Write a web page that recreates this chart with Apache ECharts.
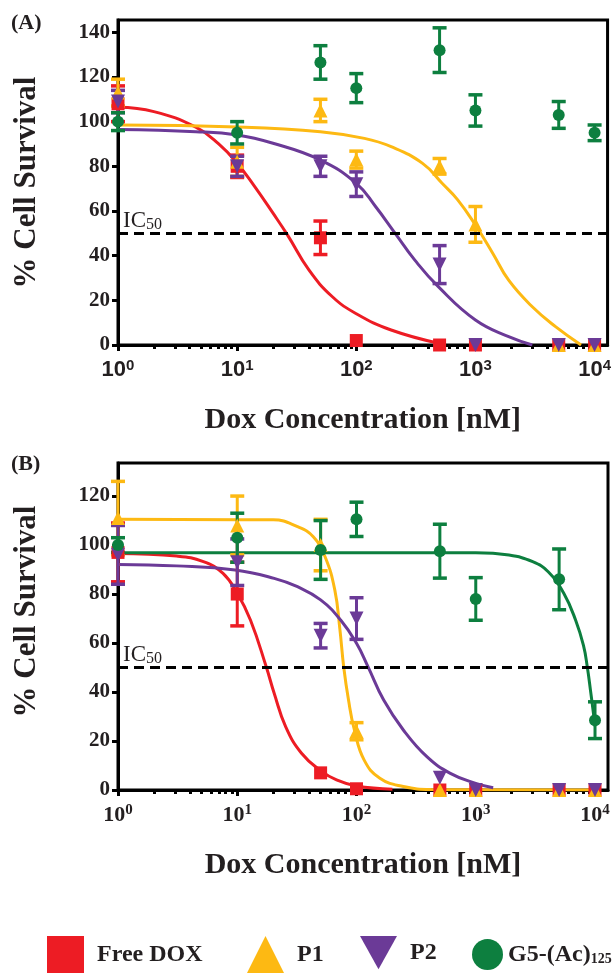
<!DOCTYPE html>
<html>
<head>
<meta charset="utf-8">
<script src="https://cdn.jsdelivr.net/npm/echarts@6/dist/echarts.min.js"></script>
<style>
html, body { margin: 0; padding: 0; background: #fff; }
#main { width: 614px; height: 973px; }
</style>
</head>
<body>
<div id="main"></div>
<script>
// concentrations (nM)
var conc = [1, 10, 50, 100, 500, 1000, 5000, 10000];

// panel A: mean % survival and error
var doxA = [108, 80, 48, 2, 0, 0, 0, 0];
var doxAErr = [8, 5, 7.5, 0, 0, 0, 0, 0];
var p1A = [113, 82, 105, 83, 80, 54, 0, 0];
var p1AErr = [6, 6.5, 5, 3.8, 3.5, 8, 0, 0];
var p2A = [109, 80, 80, 72, 36, 0, 0, 0];
var p2AErr = [5, 4.5, 4.5, 5.5, 8.5, 0, 0, 0];
var g5A = [100, 95, 126.5, 115, 132, 105, 103, 95];
var g5AErr = [4, 5, 7.5, 6.5, 10, 7, 6, 3.5];

// panel B
var doxB = [97, 80, 7, 0.5, 0, 0, 0, 0];
var doxBErr = [12, 13, 0, 0, 0, 0, 0, 0];
var p1B = [111, 108, 100, 24, 0, 0, 0, 0];
var p1BErr = [15, 12, 10.5, 3.5, 0, 0, 0, 0];
var p2B = [96, 93, 63, 70, 5, 0, 0, 0];
var p2BErr = [12, 9.5, 5, 8.5, 0, 0, 0, 0];
var g5B = [100, 103, 98, 110.5, 97.5, 78, 86, 28.5];
var g5BErr = [3, 10, 12, 7, 11, 8.7, 12.4, 7.5];

// fitted curves as [conc, value]
var doxFitA = [[1, 106.4], [2, 104.5], [4.5, 97.5], [7, 90], [10, 81.4], [14, 71], [20, 59], [26.5, 49.2], [40, 33.6], [63, 21.6], [100, 14], [196, 6.7], [490, 0.8]];
var p1FitA = [[1, 98.5], [10, 97.6], [50, 95.5], [117, 92.5], [196, 88.8], [360, 81.3], [525, 72.4], [710, 65], [1000, 53.7], [1400, 41], [1900, 29], [3000, 17.1], [4700, 8.2], [7700, 0]];
var p2FitA = [[1, 96.5], [4.5, 95.5], [10, 94], [20, 90.3], [50, 82.8], [100, 72.4], [145, 62], [212, 50], [310, 38], [490, 26], [1000, 11.2], [1900, 3.7], [3000, 0]];

var doxFitB = [[1, 96.6], [3.1, 95.5], [5.2, 93.2], [7.6, 88.4], [10, 80.3], [12.9, 69.4], [17.5, 50.3], [20.4, 39.5], [25.5, 25.8], [34.6, 15], [50, 7.9], [68, 4.1], [100, 1.6], [200, 0.3]];
var p1FitB = [[1, 110.5], [20, 110.3], [32, 107.5], [43.4, 103.4], [54.5, 95.2], [65.8, 81.6], [72.4, 66], [78.2, 50], [85.7, 36.7], [96, 24.5], [116, 12.2], [157, 4.8], [247, 1.4], [420, 0.2], [10000, 0]];
var p2FitB = [[1, 92.1], [3.1, 91.5], [9.6, 89.8], [20.4, 86.4], [32, 83], [50, 77.6], [73.6, 69.4], [100, 59.9], [125, 50.3], [169, 36.7], [247, 24.5], [389, 13.6], [612, 6.8], [1000, 2.7], [1400, 0.9]];
var g5FitB = [[1, 96.9], [100, 96.9], [1000, 96.9], [1900, 95.9], [3000, 93.2], [4050, 89.1], [5470, 80.3], [6870, 69.4], [8000, 59], [8630, 50], [9200, 40], [9660, 32], [10000, 26]];

var ic50 = 50;
var xMajor = [1, 10, 100, 1000, 10000];
var xExp = ['0', '1', '2', '3', '4'];
var xMinor = [];
for (var d = 1; d < 10000; d *= 10) {
	for (var k = 2; k <= 9; k++) xMinor.push(k * d);
}
var yTicksA = [0, 20, 40, 60, 80, 100, 120, 140];
var yTicksB = [0, 20, 40, 60, 80, 100, 120];
var xMax = 12850, yMaxA = 145.5, yMaxB = 133.5;

var names = ['Free DOX', 'P1', 'P2', 'G5-(Ac)125'];
var colors = ['#ed1c24', '#fdb913', '#6b3a97', '#0d7f3f'];
var symbols = ['rect', 'triangle', 'triangle', 'circle'];
var rotates = [0, 0, 180, 0];
var sizes = [13, 14, 14, 12];

var serif = 'Liberation Serif';
var ink = '#231f20';

function pairs(ys) {
	return conc.map(function (c, i) { return [c, ys[i]]; });
}
function errs(ys, es) {
	var out = [];
	conc.forEach(function (c, i) {
		if (es[i] > 0) out.push([c, ys[i] - es[i], ys[i] + es[i]]);
	});
	return out;
}

function renderErr(params, api) {
	var x = api.value(0);
	var lo = api.coord([x, api.value(1)]);
	var hi = api.coord([x, api.value(2)]);
	var hw = 7;
	var col = api.visual('color');
	return {
		type: 'group',
		children: [
			{ type: 'line', shape: { x1: lo[0], y1: lo[1], x2: hi[0], y2: hi[1] }, style: { stroke: col, lineWidth: 3 } },
			{ type: 'line', shape: { x1: lo[0] - hw, y1: lo[1], x2: lo[0] + hw, y2: lo[1] }, style: { stroke: col, lineWidth: 3.5 } },
			{ type: 'line', shape: { x1: hi[0] - hw, y1: hi[1], x2: hi[0] + hw, y2: hi[1] }, style: { stroke: col, lineWidth: 3.5 } }
		]
	};
}

var series = [];
function addPanel(xi, yi, means, sems, fits) {
	fits.forEach(function (f, g) {
		if (!f) return;
		var s = {
			name: names[g] + ' fit ' + xi,
			type: 'line',
			xAxisIndex: xi,
			yAxisIndex: yi,
			data: f,
			smooth: 0.45,
			showSymbol: false,
			silent: true,
			z: 2,
			lineStyle: { color: colors[g], width: 3 },
			itemStyle: { color: colors[g] }
		};
		if (g === 0) {
			s.markLine = {
				silent: true,
				symbol: 'none',
				data: [{ yAxis: ic50 }],
				lineStyle: { color: '#000', width: 3, type: [10, 6] },
				label: {
					show: true,
					position: 'insideStartTop',
					distance: [5, 1],
					formatter: 'IC{sub|50}',
					fontFamily: serif,
					fontSize: 23,
					color: ink,
					rich: { sub: { fontFamily: serif, fontSize: 16, color: ink, verticalAlign: 'bottom', lineHeight: 12 } }
				}
			};
		}
		series.push(s);
	});
	means.forEach(function (m, g) {
		series.push({
			name: names[g] + ' err ' + xi,
			type: 'custom',
			xAxisIndex: xi,
			yAxisIndex: yi,
			renderItem: renderErr,
			itemStyle: { color: colors[g] },
			encode: { x: 0, y: [1, 2] },
			z: 3,
			data: errs(m, sems[g])
		});
		series.push({
			name: names[g],
			type: 'scatter',
			xAxisIndex: xi,
			yAxisIndex: yi,
			symbol: symbols[g],
			symbolRotate: rotates[g],
			symbolSize: sizes[g],
			itemStyle: { color: colors[g], opacity: 1 },
			clip: false,
			z: 4,
			data: pairs(m)
		});
	});
}

addPanel(0, 0, [doxA, p1A, p2A, g5A], [doxAErr, p1AErr, p2AErr, g5AErr], [doxFitA, p1FitA, p2FitA, null]);
addPanel(2, 1, [doxB, p1B, p2B, g5B], [doxBErr, p1BErr, p2BErr, g5BErr], [doxFitB, p1FitB, p2FitB, g5FitB]);

function xMain(gi, font) {
	return {
		type: 'log', gridIndex: gi, min: 1, max: xMax, position: 'bottom',
		axisLine: { show: true, onZero: false, lineStyle: { color: '#000', width: 3 } },
		axisTick: { show: true, customValues: xMajor, length: 6, lineStyle: { color: '#000', width: 3 } },
		axisLabel: {
			customValues: xMajor,
			margin: 13,
			formatter: function (v) { return '10{sup|' + xExp[Math.round(Math.log10(v))] + '}'; },
			fontFamily: font, fontWeight: 'bold', fontSize: 22, color: ink, lineHeight: 24,
			rich: { sup: { fontFamily: font, fontWeight: 'bold', fontSize: 15, color: ink, verticalAlign: 'top', lineHeight: 12 } }
		},
		splitLine: { show: false },
		name: 'Dox Concentration [nM]', nameLocation: 'middle', nameGap: 60,
		nameTextStyle: { fontFamily: serif, fontWeight: 'bold', fontSize: 30, color: ink }
	};
}
function xMinorAxis(gi) {
	return {
		type: 'log', gridIndex: gi, min: 1, max: xMax, position: 'bottom',
		axisLine: { show: false },
		axisTick: { show: true, customValues: xMinor, length: 4, lineStyle: { color: '#000', width: 3 } },
		axisLabel: { show: false },
		splitLine: { show: false }
	};
}
function yAxis(gi, maxV, ticks, shift) {
	return {
		type: 'value', gridIndex: gi, min: 0, max: maxV,
		axisLine: { show: true, onZero: false, lineStyle: { color: '#000', width: 3 } },
		axisTick: { show: true, customValues: ticks, length: 6, lineStyle: { color: '#000', width: 3 } },
		axisLabel: { customValues: ticks, margin: 8, fontFamily: serif, fontWeight: 'bold', fontSize: 21, color: ink },
		splitLine: { show: false },
		name: '% Cell Survival', nameLocation: 'middle', nameGap: 76, nameRotate: 90,
		nameTextStyle: { fontFamily: serif, fontWeight: 'bold', fontSize: 31, color: ink, padding: [0, 0, 0, shift] }
	};
}

function legendItem(i, left, top, w) {
	return {
		data: [{ name: names[i], icon: i === 2 ? 'path://M0,0L10,0L5,9Z' : (i === 0 ? 'rect' : symbols[i]) }],
		left: left, top: top, itemWidth: w, itemHeight: w, selectedMode: false, padding: 0,
		formatter: function (n) { return n === names[3] ? 'G5-(Ac){sub|125}' : n; },
		textStyle: {
			fontFamily: serif, fontWeight: 'bold', fontSize: 24, color: ink,
			padding: [0, 0, 0, i === 3 ? 0 : 8],
			rich: { sub: { fontFamily: serif, fontWeight: 'bold', fontSize: 14, color: ink, verticalAlign: 'bottom', lineHeight: 8 } }
		}
	};
}

var chart = echarts.init(document.getElementById('main'));
chart.setOption({
	animation: false,
	backgroundColor: '#fff',
	title: [
		{ text: '(A)', left: 11, top: 12, padding: 0, textStyle: { fontFamily: serif, fontWeight: 'bold', fontSize: 22, color: ink } },
		{ text: '(B)', left: 11, top: 453, padding: 0, textStyle: { fontFamily: serif, fontWeight: 'bold', fontSize: 22, color: ink } }
	],
	legend: [
		legendItem(0, 47, 936, 37),
		legendItem(1, 247, 936, 37),
		legendItem(2, 360, 936, 37),
		legendItem(3, 472, 939, 31)
	],
	grid: [
		{ left: 118, top: 20, width: 490, height: 325, show: true, borderColor: '#000', borderWidth: 3 },
		{ left: 118, top: 463, width: 490, height: 327, show: true, borderColor: '#000', borderWidth: 3 }
	],
	xAxis: [xMain(0, 'Liberation Sans'), xMinorAxis(0), xMain(1, serif), xMinorAxis(1)],
	yAxis: [yAxis(0, yMaxA, yTicksA, 0), yAxis(1, yMaxB, yTicksB, 30)],
	series: series
});
window.addEventListener('resize', chart.resize);
</script>
</body>
</html>
